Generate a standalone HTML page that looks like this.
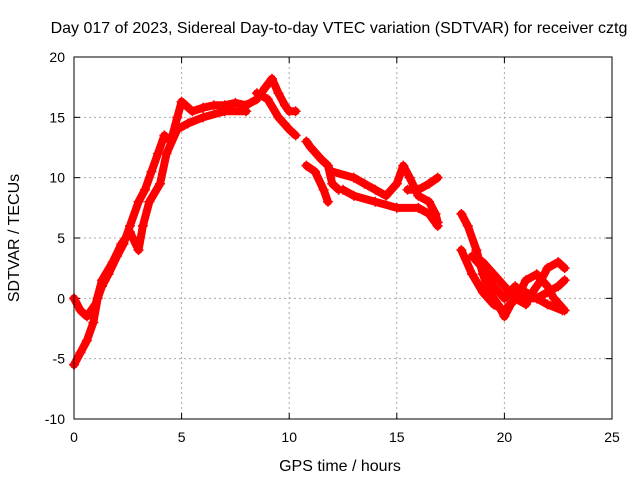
<!DOCTYPE html>
<html><head><meta charset="utf-8"><style>
body{margin:0;background:#fff}
svg{font-family:"Liberation Sans",sans-serif;font-size:14px}
</style></head><body>
<svg id="chart" width="640" height="480">
<text x="339" y="33" text-anchor="middle" font-size="16">Day 017 of 2023, Sidereal Day-to-day VTEC variation (SDTVAR) for receiver cztg</text>
<text x="340" y="471" text-anchor="middle" font-size="16">GPS time / hours</text>
<text transform="translate(19,238) rotate(-90)" text-anchor="middle" font-size="16">SDTVAR / TECUs</text>
<g id="grid"></g><g id="marks"></g>
<rect x="74" y="57" width="538" height="362" fill="none" stroke="#000"/>
</svg>
<script>
const xTicks=[0,5,10,15,20,25];
const yTicks=[-10,-5,0,5,10,15,20];
const trackA=[[0,-5.5],[0.3,-4.5],[0.6,-3.5],[0.9,-2],[1.1,0],[1.3,1],[1.6,2],[2,3.5],[2.3,4.5],[2.6,6],[3,8],[3.3,9],[3.6,10.5],[3.9,12],[4.2,13.5],[4.5,13],[4.8,15],[5,16.3],[5.5,15.5],[6,15.8],[6.5,16],[7,16],[7.5,16.2],[8,16],[8.5,16.5],[8.9,17.5],[9.2,18.2],[9.5,17],[9.8,16],[10,15.5],[10.3,15.5]];
const trackB=[[0,0],[0.3,-1],[0.6,-1.5],[1,-0.5],[1.3,1.5],[1.8,3],[2.2,4.5],[2.6,5.5],[3,4],[3.2,6],[3.5,8],[4,9.5],[4.3,12],[4.8,14],[5.3,14.5],[6,15],[7,15.5],[8,15.5]];
const trackC=[[8.5,17],[9,16.5],[9.5,15],[10,14],[10.3,13.5]];
const trackD=[[10.8,13],[11,12.5],[11.5,11.5],[11.8,11],[12,9.5],[12.3,9]];
const trackD2=[[10.8,11],[11.2,10.5],[11.6,9],[11.8,8]];
const trackE=[[12,10.5],[13,10],[13.5,9.5],[14,9],[14.5,8.5],[15,9.5],[15.3,11],[15.6,10],[16,8.5],[16.5,8],[16.8,7],[16.9,6.3]];
const trackE2=[[12.5,9],[13,8.5],[14,8],[15,7.5],[16,7.5],[16.5,7],[16.9,6]];
const trackE3=[[15.5,9],[16,9],[16.5,9.5],[16.9,10]];
const trackF=[[18,7],[18.3,6],[18.7,4],[19,2],[19.3,0.5],[19.7,-0.5],[20,-1.5],[20.3,-0.5],[20.7,0.5],[21,1.5],[21.5,2],[22,1],[22.3,0],[22.8,-1]];
const trackG=[[18,4],[18.5,2],[19,0.5],[19.5,-0.5],[20,-1],[20.5,0],[21,0.5],[21.5,0],[22,-0.5],[22.7,-1]];
const trackH=[[18.5,3.5],[19,2.5],[19.5,1],[20,0],[20.5,1],[21,0],[21.5,0],[22,0.5],[22.5,1],[22.8,1.5]];
const trackI=[[19,3],[19.5,2],[20,1],[20.5,0],[21,-0.5],[21.3,0.5],[21.7,1.5],[22,2.5],[22.5,3],[22.8,2.5]];
const tracks=[trackA,trackB,trackC,trackD,trackD2,trackE,trackE2,trackE3,trackF,trackG,trackH,trackI];
const X0=74,X1=612,Y0=419,Y1=57;
function sx(v){return X0+(v-0)/(25-0)*(X1-X0);}
function sy(v){return Y0-(v+10)/30*(Y0-Y1);}
const NS="http://www.w3.org/2000/svg";
const grid=document.getElementById('grid'),marks=document.getElementById('marks');
function mk(t,a,p){const e=document.createElementNS(NS,t);for(const k in a)e.setAttribute(k,a[k]);p.appendChild(e);return e;}
xTicks.forEach(v=>{const x=sx(v);
 if(v>0&&v<25){const l=mk('line',{x1:x,x2:x,y1:Y0,y2:Y1,stroke:'#aaa','stroke-dasharray':'2,3'},grid);
 
 }
 mk('line',{x1:x,x2:x,y1:Y0,y2:Y0-6,stroke:'#000'},grid);mk('line',{x1:x,x2:x,y1:Y1,y2:Y1+6,stroke:'#000'},grid);
 const t=mk('text',{x:x,y:Y0+23,'text-anchor':'middle'},grid);t.textContent=v;
 
 });
yTicks.forEach(v=>{const y=sy(v);
 if(v>-10&&v<20){const l=mk('line',{x1:X0,x2:X1,y1:y,y2:y,stroke:'#aaa','stroke-dasharray':'2,3'},grid);
 
 }
 mk('line',{x1:X0,x2:X0+6,y1:y,y2:y,stroke:'#000'},grid);mk('line',{x1:X1,x2:X1-6,y1:y,y2:y,stroke:'#000'},grid);
 const t=mk('text',{x:X0-9,y:y+5,'text-anchor':'end'},grid);t.textContent=v;
 
 });
tracks.forEach(tr=>{
 const pl=mk('polyline',{points:tr.map(p=>sx(p[0])+','+sy(p[1])).join(' '),fill:'none',stroke:'#f00','stroke-width':8,'stroke-linejoin':'round','stroke-linecap':'round'},marks);
 
 
 tr.forEach(p=>{const x=sx(p[0]),y=sy(p[1]);
  const m=mk('path',{d:`M${x-5},${y}h10M${x},${y-5}v10`,stroke:'#f00','stroke-width':1.5},marks);
  
  });
});
</script>
</body></html>
